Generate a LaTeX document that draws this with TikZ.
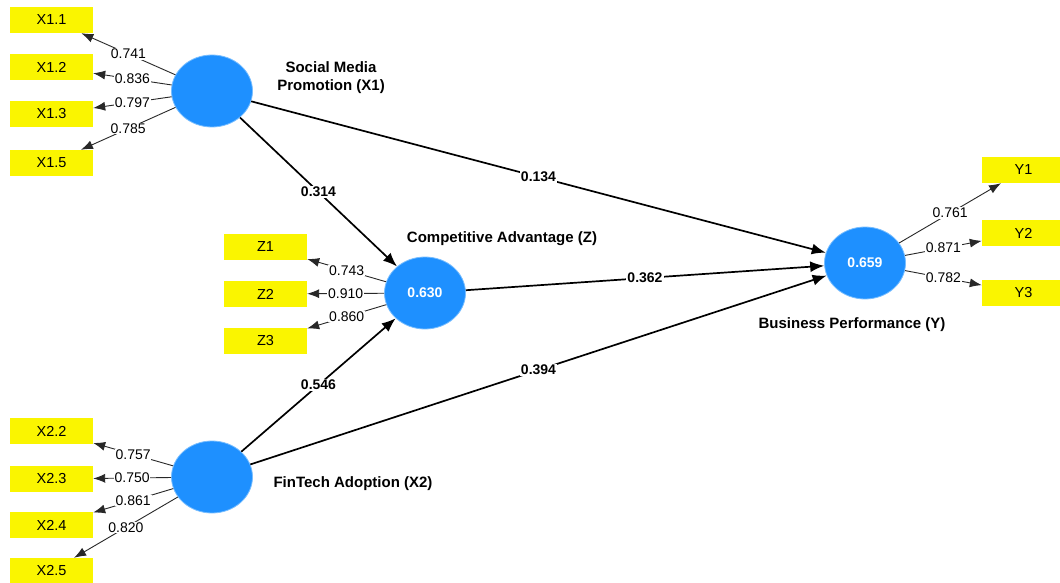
\documentclass[tikz,border=0pt]{standalone}
\usepackage{fontspec}
\setmainfont{Liberation Sans}
\usetikzlibrary{shapes.geometric,arrows.meta}
\definecolor{lvblue}{RGB}{30,144,255}
\definecolor{lvedge}{RGB}{120,190,255}
\definecolor{indyellow}{RGB}{250,245,0}
\definecolor{loadgray}{RGB}{40,40,40}
\tikzset{
  latent/.style={ellipse, fill=lvblue, draw=lvedge, line width=0.8pt, minimum width=81pt, minimum height=72pt, inner sep=0pt, text=white, font=\fontsize{14}{16}\selectfont\bfseries},
  ind/.style={rectangle, fill=indyellow, minimum width=83pt, minimum height=26pt, inner sep=0pt, font=\fontsize{14.5}{16}\selectfont},
  lvlabel/.style={font=\fontsize{15}{18}\selectfont\bfseries, align=center},
  path/.style={line width=1.7pt, -{Latex[length=14pt,width=11pt]}},
  load/.style={line width=0.9pt, draw=loadgray, -{Latex[length=12pt,width=9pt]}},
  coef/.style={fill=white, inner sep=1pt, font=\fontsize{14}{16}\selectfont\bfseries},
  ldval/.style={fill=white, inner sep=0.8pt, text=black, font=\fontsize{14}{16}\selectfont}
}
\begin{document}
\begin{tikzpicture}[x=1pt,y=-1pt]
\useasboundingbox[fill=white] (0,0) rectangle (1060,583);
% latent variables
\node[latent] (X1) at (212,91) {};
\node[latent] (X2) at (212,477) {};
\node[latent] (Z) at (425,293) {0.630};
\node[latent] (Y) at (865,263) {0.659};
% labels
\node[lvlabel] (lX1) at (331,78) {Social Media\\Promotion (X1)};
\node[lvlabel] (lZ) at (502,239) {Competitive Advantage (Z)};
\node[lvlabel] (lY) at (852,325) {Business Performance (Y)};
\node[lvlabel] (lX2) at (353,484) {FinTech Adoption (X2)};
% indicators
\node[ind] (x11) at (51.5,20) {X1.1};
\node[ind] (x12) at (51.5,67) {X1.2};
\node[ind] (x13) at (51.5,114) {X1.3};
\node[ind] (x15) at (51.5,163) {X1.5};
\node[ind] (z1) at (265.5,247) {Z1};
\node[ind] (z2) at (265.5,294) {Z2};
\node[ind] (z3) at (265.5,341) {Z3};
\node[ind] (x22) at (51.5,431) {X2.2};
\node[ind] (x23) at (51.5,479) {X2.3};
\node[ind] (x24) at (51.5,525) {X2.4};
\node[ind] (x25) at (51.5,571) {X2.5};
\node[ind] (y1) at (1023.5,170) {Y1};
\node[ind] (y2) at (1023.5,233) {Y2};
\node[ind] (y3) at (1023.5,293) {Y3};
% structural paths
\draw[path] (X1) -- node[coef] {0.314} (Z);
\draw[path] (X1) -- node[coef] {0.134} (Y);
\draw[path] (Z) -- node[coef] {0.362} (Y);
\draw[path] (X2) -- node[coef] {0.546} (Z);
\draw[path] (X2) -- node[coef] {0.394} (Y);
% loadings
\draw[load] (X1) -- node[ldval] {0.741} (x11);
\draw[load] (X1) -- node[ldval] {0.836} (x12);
\draw[load] (X1) -- node[ldval] {0.797} (x13);
\draw[load] (X1) -- node[ldval] {0.785} (x15);
\draw[load] (Z) -- node[ldval] {0.743} (z1);
\draw[load] (Z) -- node[ldval] {0.910} (z2);
\draw[load] (Z) -- node[ldval] {0.860} (z3);
\draw[load] (X2) -- node[ldval] {0.757} (x22);
\draw[load] (X2) -- node[ldval] {0.750} (x23);
\draw[load] (X2) -- node[ldval] {0.861} (x24);
\draw[load] (X2) -- node[ldval] {0.820} (x25);
\draw[load] (Y) -- node[ldval] {0.761} (y1);
\draw[load] (Y) -- node[ldval] {0.871} (y2);
\draw[load] (Y) -- node[ldval] {0.782} (y3);
\end{tikzpicture}
\end{document}
